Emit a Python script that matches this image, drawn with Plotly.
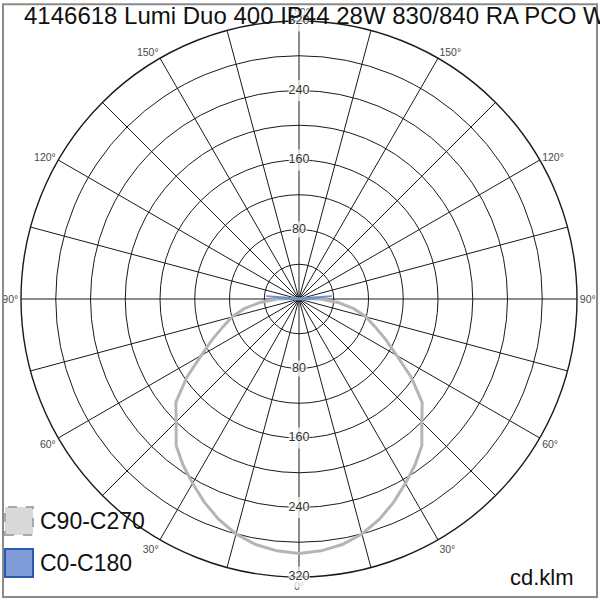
import plotly.graph_objects as go

# ---------------- data ----------------
title_text = "4146618 Lumi Duo 400 IP44 28W 830/840 RA PCO W"
unit_text = "cd.klm"
series_names = ["C90-C270", "C0-C180"]

gamma = [0, 5, 10, 15, 20, 25, 30, 35, 40, 45, 50, 55, 60, 65, 70, 75, 80, 85, 90,
         95, 100, 105, 110, 115, 120, 125, 130, 135, 140, 145, 150, 155, 160, 165, 170, 175, 180]
c90_c270 = [293, 291, 287, 280, 270, 258, 245, 233, 220, 200, 185, 158, 130, 110, 93, 80, 64, 45, 25,
            5, 0, 0, 0, 0, 0, 0, 0, 0, 0, 0, 0, 0, 0, 0, 0, 0, 0]
c0_c180 = [0, 0, 0, 0, 0, 0, 0, 0, 0, 0, 0, 0, 0, 0, 0, 0, 0, 0, 15,
           38, 8, 0, 0, 0, 0, 0, 0, 0, 0, 0, 0, 0, 0, 0, 0, 0, 0]

radial_ticks = [80, 160, 240, 320]
angle_ticks = [0, 15, 30, 45, 60, 75, 90, 105, 120, 135, 150, 165, 180,
               195, 210, 225, 240, 255, 270, 285, 300, 315, 330, 345]
angle_labels = ["0°", "", "30°", "", "60°", "", "90°", "", "120°", "", "150°", "", "180°",
                "", "150°", "", "120°", "", "90°", "", "60°", "", "30°", ""]

FONT = "Liberation Sans, Arial, sans-serif"


def mirror(vals):
    # one half on each side of the vertical axis
    th = [-g for g in reversed(gamma)] + gamma[1:]
    rr = list(reversed(vals)) + vals[1:]
    return rr, th


fig = go.Figure()

r1, t1 = mirror(c90_c270)
fig.add_trace(go.Scatterpolar(r=r1, theta=t1, mode="lines", name=series_names[0],
                              line=dict(color="#b5b5b5", width=3), showlegend=False))
r2, t2 = mirror(c0_c180)
fig.add_trace(go.Scatterpolar(r=r2, theta=t2, mode="lines", name=series_names[1],
                              line=dict(color="#6f8fcf", width=1.5), showlegend=False))

# radial tick labels on the vertical axis (up and down)
lab_r = radial_ticks + radial_ticks
lab_t = [180] * len(radial_ticks) + [0] * len(radial_ticks)
lab_txt = [str(v) for v in lab_r]
lab_size = [16 if len(s) < 3 else 21 for s in lab_txt]
fig.add_trace(go.Scatterpolar(
    r=lab_r, theta=lab_t, mode="markers+text", text=lab_txt,
    textposition="middle center",
    marker=dict(symbol="square", color="white", size=lab_size, line=dict(width=0)),
    textfont=dict(family=FONT, size=12.5, color="#333333", shadow="white 0px 0px 2px"),
    showlegend=False, hoverinfo="skip", cliponaxis=False))

cx, cy, rad = 299 / 600, 1 - 299 / 600, 278 / 600
fig.update_layout(
    width=600, height=600,
    margin=dict(l=0, r=0, t=0, b=0),
    paper_bgcolor="white",
    plot_bgcolor="white",
    title=dict(text=title_text, x=24 / 600, xanchor="left", y=1 - 16 / 600, yanchor="middle",
               font=dict(family=FONT, size=24, color="#111111")),
    polar=dict(
        domain=dict(x=[cx - rad, cx + rad], y=[cy - rad, cy + rad]),
        bgcolor="white",
        radialaxis=dict(range=[0, 320], tickvals=[40, 80, 120, 160, 200, 240, 280, 320],
                        showticklabels=False, ticks="", showline=False,
                        gridcolor="#1a1a1a", gridwidth=1.4, layer="below traces"),
        angularaxis=dict(rotation=270, direction="clockwise",
                         tickmode="array", tickvals=angle_ticks, ticktext=angle_labels,
                         ticks="", showline=True, linecolor="#1a1a1a", linewidth=1.4,
                         gridcolor="#1a1a1a", gridwidth=1.4, layer="below traces",
                         tickfont=dict(family=FONT, size=10.5, color="#4a4a4a")),
    ),
    showlegend=False,
)

# frame
fig.add_shape(type="rect", xref="paper", yref="paper", x0=0.005, x1=0.995, y0=0.005, y1=0.993,
              line=dict(color="#8a8a8a", width=2), fillcolor="rgba(0,0,0,0)", layer="above")

# legend (drawn manually: large square swatches)
sw = [dict(fill="#d9d9d9", line="#a8a8a8", dash="dash", y0=1 - 535 / 600, y1=1 - 507 / 600),
      dict(fill="#7f9bd8", line="#2b58b0", dash="solid", y0=1 - 577 / 600, y1=1 - 549 / 600)]
for name, s in zip(series_names, sw):
    fig.add_shape(type="rect", xref="paper", yref="paper", x0=5 / 600, x1=33 / 600,
                  y0=s["y0"], y1=s["y1"], fillcolor=s["fill"],
                  line=dict(color=s["line"], width=2, dash=s["dash"]), layer="above")
    fig.add_annotation(text=name, xref="paper", yref="paper", x=38 / 600,
                       y=(s["y0"] + s["y1"]) / 2, xanchor="left", yanchor="middle",
                       showarrow=False,
                       font=dict(family=FONT, size=23, color="#111111"))

fig.add_annotation(text=unit_text, xref="paper", yref="paper", x=576 / 600, y=1 - 577 / 600,
                   xanchor="right", yanchor="middle", showarrow=False,
                   font=dict(family=FONT, size=22, color="#111111"))

fig.write_html("out.html", config={"displayModeBar": False},
               post_script="document.body.style.margin='0';document.body.style.overflow='hidden';")
